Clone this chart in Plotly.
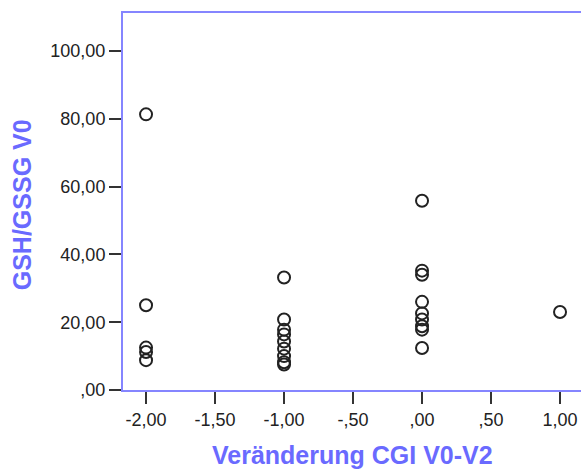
import plotly.graph_objects as go

# Data
cgi_change = [-2, -2, -2, -2, -2,
              -1, -1, -1, -1, -1, -1, -1, -1, -1,
              0, 0, 0, 0, 0, 0, 0, 0, 0,
              1]
gsh_gssg_v0 = [81.3, 25.0, 12.5, 11.2, 8.8,
               33.2, 20.8, 17.8, 16.4, 14.3, 12.2, 10.0, 8.2, 7.5,
               55.8, 35.2, 34.0, 26.0, 22.6, 20.8, 18.8, 17.8, 12.4,
               23.0]

x_tickvals = [-2, -1.5, -1, -0.5, 0, 0.5, 1]
x_ticktext = ["-2,00", "-1,50", "-1,00", "-,50", ",00", ",50", "1,00"]
y_tickvals = [0, 20, 40, 60, 80, 100]
y_ticktext = [",00", "20,00", "40,00", "60,00", "80,00", "100,00"]

x_title = "Veränderung CGI V0-V2"
y_title = "GSH/GSSG V0"

axis_color = "#8585ff"
title_color = "#6a6aff"
font_family = "Liberation Sans, Arial, sans-serif"

fig = go.Figure()
fig.add_trace(go.Scatter(
    x=cgi_change, y=gsh_gssg_v0, mode="markers",
    marker=dict(symbol="circle-open", size=12, color="#222222",
                line=dict(width=2, color="#222222")),
    showlegend=False, hoverinfo="x+y",
))

fig.update_layout(
    width=581, height=470,
    margin=dict(l=123, r=0, t=13, b=80, autoexpand=False),
    paper_bgcolor="white", plot_bgcolor="white",
    font=dict(family=font_family, size=18, color="#222222"),
    xaxis=dict(
        range=[-2.167, 1.152], tickvals=x_tickvals, ticktext=x_ticktext,
        showgrid=False, zeroline=False, automargin=False,
        showline=True, linecolor=axis_color, linewidth=2, mirror=True,
        ticks="outside", ticklen=12, tickwidth=2, tickcolor="#333333",
        tickfont=dict(size=18, color="#222222"),
    ),
    yaxis=dict(
        range=[0, 111.2], tickvals=y_tickvals, ticktext=y_ticktext,
        showgrid=False, zeroline=False, automargin=False,
        showline=True, linecolor=axis_color, linewidth=2, mirror=False,
        ticks="outside", ticklen=12, tickwidth=2, tickcolor="#333333",
        tickfont=dict(size=18, color="#222222"),
    ),
    annotations=[
        dict(text="<b>" + x_title + "</b>", xref="paper", yref="paper",
             x=0.5, y=-0.172, xanchor="center", yanchor="middle", showarrow=False,
             font=dict(size=25, color=title_color, family=font_family)),
        dict(text="<b>" + y_title + "</b>", xref="paper", yref="paper",
             x=-0.2205, y=0.49, xanchor="center", yanchor="middle", showarrow=False,
             textangle=-90,
             font=dict(size=25, color=title_color, family=font_family)),
    ],
)

fig.write_html("out.html", config={"displayModeBar": False},
               post_script="document.body.style.margin='0';")
